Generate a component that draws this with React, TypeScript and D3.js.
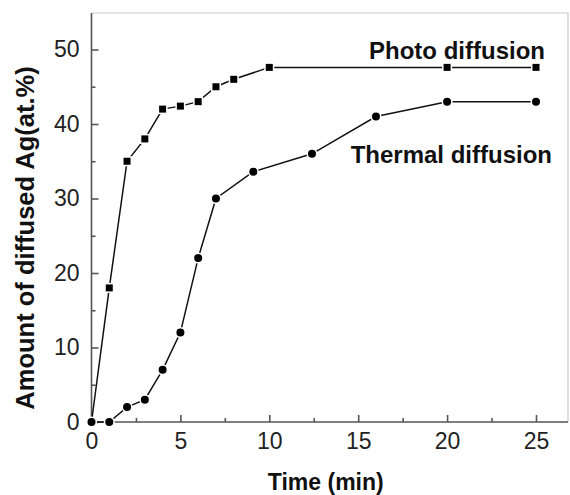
import React, {useEffect, useRef} from "react";
import * as d3 from "d3";

// photo diffusion (squares)
const photoTime = [0, 1, 2, 3, 4, 5, 6, 7, 8, 10, 20, 25];
const photoAg = [0, 18, 35, 38, 42, 42.4, 43, 45, 46, 47.6, 47.6, 47.6];
// thermal diffusion (circles)
const thermalTime = [0, 1, 2, 3, 4, 5, 6, 7, 9.1, 12.4, 16, 20, 25];
const thermalAg = [0, 0, 2, 3, 7, 12, 22, 30, 33.6, 36, 41, 43, 43];

const xTicks = [0, 5, 10, 15, 20, 25];
const yTicks = [0, 10, 20, 30, 40, 50];
const xMinor = [2.5, 7.5, 12.5, 17.5, 22.5];
const yMinor = [5, 15, 25, 35, 45];

const WIDTH = 570;
const HEIGHT = 495;

export default function App() {
    const svgRef = useRef<SVGSVGElement>(null);

    useEffect(() => {
        const svg = d3.select(svgRef.current);
        svg.selectAll("*").remove();

        const margin = {top: 13, right: 2, bottom: 73, left: 91.5};
        const x = d3.scaleLinear().domain([0, 26.8]).range([margin.left, WIDTH - margin.right]);
        const y = d3.scaleLinear().domain([0, 54.9]).range([HEIGHT - margin.bottom, margin.top]);
        const axisColor = "#555";
        const font = "Arial, 'Liberation Sans', Helvetica, sans-serif";

        // faint frame top / right
        svg.append("path")
            .attr("d", `M${x(0)},${y(54.9)}H${x(26.8)}V${y(0)}`)
            .attr("fill", "none")
            .attr("stroke", "#c8c8c8")
            .attr("stroke-width", 1.2);

        /** x axis */
        const xAxis = svg.append("g")
            .attr("transform", `translate(0,${y(0)})`)
            .call(d3.axisBottom(x).tickValues(xTicks).tickSize(-7).tickPadding(11).tickSizeOuter(0));
        svg.append("g")
            .attr("transform", `translate(0,${y(0)})`)
            .call(d3.axisBottom(x).tickValues(xMinor).tickSize(-4).tickFormat(() => "").tickSizeOuter(0))
            .call(g => g.select(".domain").remove());

        /** y axis */
        const yAxis = svg.append("g")
            .attr("transform", `translate(${x(0)},0)`)
            .call(d3.axisLeft(y).tickValues(yTicks).tickSize(-7).tickPadding(12).tickSizeOuter(0));
        svg.append("g")
            .attr("transform", `translate(${x(0)},0)`)
            .call(d3.axisLeft(y).tickValues(yMinor).tickSize(-4).tickFormat(() => "").tickSizeOuter(0))
            .call(g => g.select(".domain").remove());

        svg.selectAll(".domain, .tick line")
            .attr("stroke", axisColor)
            .attr("stroke-width", 1.6);
        [xAxis, yAxis].forEach(a => a.selectAll("text")
            .attr("font-family", font)
            .attr("font-size", 23)
            .attr("fill", "#222"));
        // y domain spans the full frame height
        yAxis.select(".domain").attr("d", `M0,${y(54.9)}V${y(0)}`);
        xAxis.select(".domain").attr("d", `M${x(0)},0H${x(26.8)}`);

        /** series */
        const line = d3.line<[number, number]>().x(d => x(d[0])).y(d => y(d[1]));
        const photo: [number, number][] = photoTime.map((t, i) => [t, photoAg[i]]);
        const thermal: [number, number][] = thermalTime.map((t, i) => [t, thermalAg[i]]);

        [photo, thermal].forEach(data => {
            svg.append("path")
                .datum(data)
                .attr("d", line)
                .attr("fill", "none")
                .attr("stroke", "#111")
                .attr("stroke-width", 1.5);
        });

        svg.append("g").selectAll("rect")
            .data(photo)
            .join("rect")
            .attr("x", d => x(d[0]) - 3.5)
            .attr("y", d => y(d[1]) - 3.5)
            .attr("width", 7)
            .attr("height", 7)
            .attr("fill", "#000")
            .attr("stroke", "#fff")
            .attr("stroke-width", 3)
            .attr("paint-order", "stroke");

        svg.append("g").selectAll("circle")
            .data(thermal)
            .join("circle")
            .attr("cx", d => x(d[0]))
            .attr("cy", d => y(d[1]))
            .attr("r", 4)
            .attr("fill", "#000")
            .attr("stroke", "#fff")
            .attr("stroke-width", 3)
            .attr("paint-order", "stroke");

        /** labels */
        svg.append("text")
            .attr("x", 545).attr("y", 59)
            .attr("text-anchor", "end")
            .attr("font-family", font).attr("font-weight", "bold").attr("font-size", 24)
            .attr("fill", "#111")
            .text("Photo diffusion");
        svg.append("text")
            .attr("x", 552).attr("y", 163)
            .attr("text-anchor", "end")
            .attr("font-family", font).attr("font-weight", "bold").attr("font-size", 24)
            .attr("fill", "#111")
            .text("Thermal diffusion");

        svg.append("text")
            .attr("x", (x(0) + x(26.8)) / 2 - 4).attr("y", 490)
            .attr("text-anchor", "middle")
            .attr("font-family", font).attr("font-weight", "bold").attr("font-size", 23)
            .attr("fill", "#111")
            .text("Time (min)");
        svg.append("text")
            .attr("transform", `translate(34,238) rotate(-90)`)
            .attr("text-anchor", "middle")
            .attr("font-family", font).attr("font-weight", "bold").attr("font-size", 25.5)
            .attr("fill", "#111")
            .text("Amount of diffused Ag(at.%)");
    }, []);

    return (
        <svg ref={svgRef} width={WIDTH} height={HEIGHT}
             style={{position: "absolute", left: 0, top: 0, background: "#fff"}}/>
    );
}
